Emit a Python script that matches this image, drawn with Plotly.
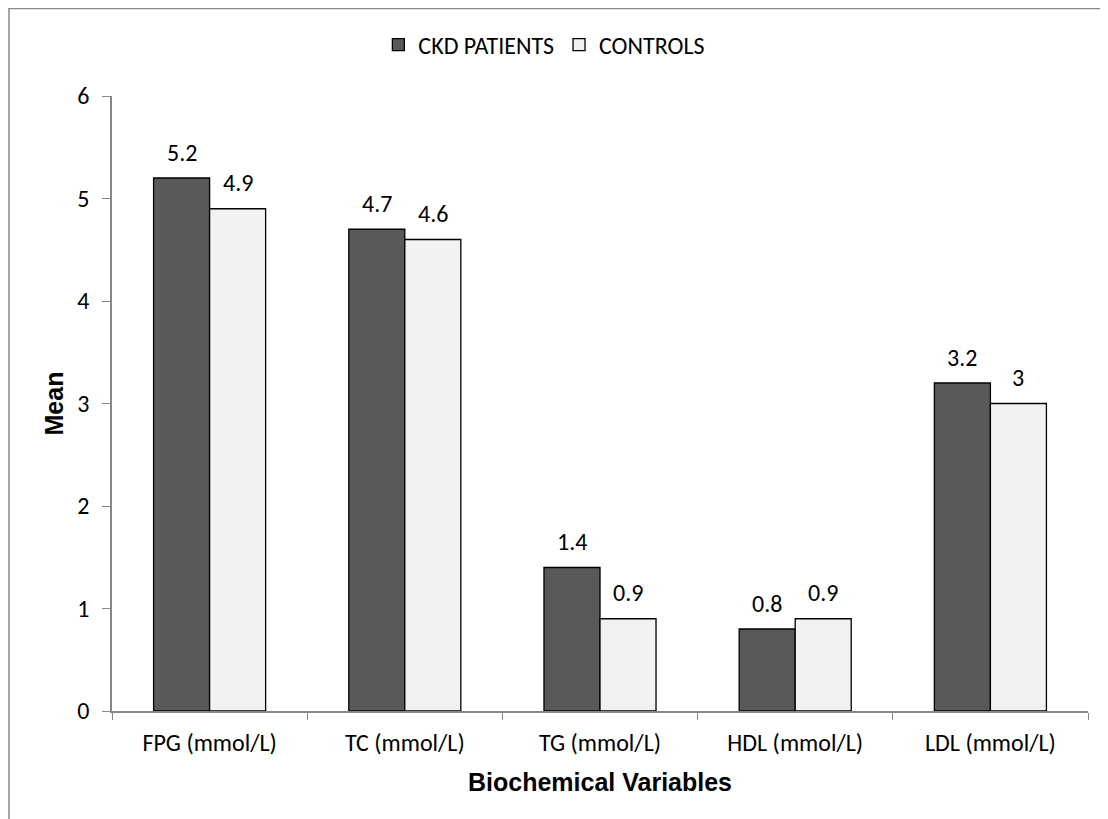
import plotly.graph_objects as go

categories = ["FPG (mmol/L)", "TC (mmol/L)", "TG (mmol/L)", "HDL (mmol/L)", "LDL (mmol/L)"]
ckd_patients = [5.2, 4.7, 1.4, 0.8, 3.2]
controls = [4.9, 4.6, 0.9, 0.9, 3]
y_ticks = [0, 1, 2, 3, 4, 5, 6]

label_font = "Carlito, Lato, Calibri, sans-serif"
title_font = "Arial, Liberation Sans, sans-serif"
FS = 24

ML, MT, PW, PH = 104, 88, 976, 615
BARGAP = 0.426
bar_w_px = (1 - BARGAP) / 2 * PW / len(categories)

fig = go.Figure()
annotations = []
for i, (name, vals, col) in enumerate([("CKD PATIENTS", ckd_patients, "#595959"), ("CONTROLS", controls, "#f2f2f2")]):
    fig.add_trace(go.Bar(
        name=name, x=categories, y=vals,
        marker=dict(color=col, line=dict(color="#000000", width=1.3)),
    ))
    shift = (i - 0.5) * bar_w_px
    for c, v in zip(categories, vals):
        annotations.append(dict(x=c, y=v, xref="x", yref="y", text=f"{v:g}", showarrow=False,
                                xshift=shift, yshift=26, font=dict(family=label_font, size=FS, color="#000000")))

fig.update_layout(
    width=1108, height=819,
    margin=dict(l=ML, r=1108 - ML - PW, t=MT, b=819 - MT - PH),
    paper_bgcolor="white", plot_bgcolor="white",
    barmode="group", bargap=BARGAP, bargroupgap=0,
    font=dict(family=label_font, size=FS, color="#000000"),
    showlegend=True,
    legend=dict(orientation="h", x=0.443, y=1.083, xanchor="center", yanchor="middle",
                font=dict(family=label_font, size=FS), traceorder="normal",
                itemwidth=30, bgcolor="rgba(0,0,0,0)"),
    xaxis=dict(
        showline=True, linecolor="#868686", linewidth=1.5,
        ticks="outside", tickson="boundaries", ticklen=7, tickcolor="#868686",
        tickfont=dict(family=label_font, size=FS), ticklabelstandoff=9,
        title=dict(text="<b>Biochemical Variables</b>", font=dict(family=title_font, size=25), standoff=18),
        showgrid=False,
    ),
    yaxis=dict(
        range=[0, 6], tickvals=y_ticks, showline=True, linecolor="#868686", linewidth=1.5,
        ticks="outside", ticklen=8, tickcolor="#868686",
        tickfont=dict(family=label_font, size=FS), ticklabelstandoff=8,
        title=dict(text="<b>Mean</b>", font=dict(family=title_font, size=25), standoff=7),
        showgrid=False, zeroline=False,
    ),
    annotations=annotations,
    shapes=[dict(type="rect", xref="paper", yref="paper",
                 x0=(1 - ML) / PW, x1=1.2, y0=-0.4, y1=1 + (MT - 0.5) / PH,
                 line=dict(color="#868686", width=1.5), fillcolor="rgba(0,0,0,0)", layer="below")],
)

fig.write_html("out.html")
